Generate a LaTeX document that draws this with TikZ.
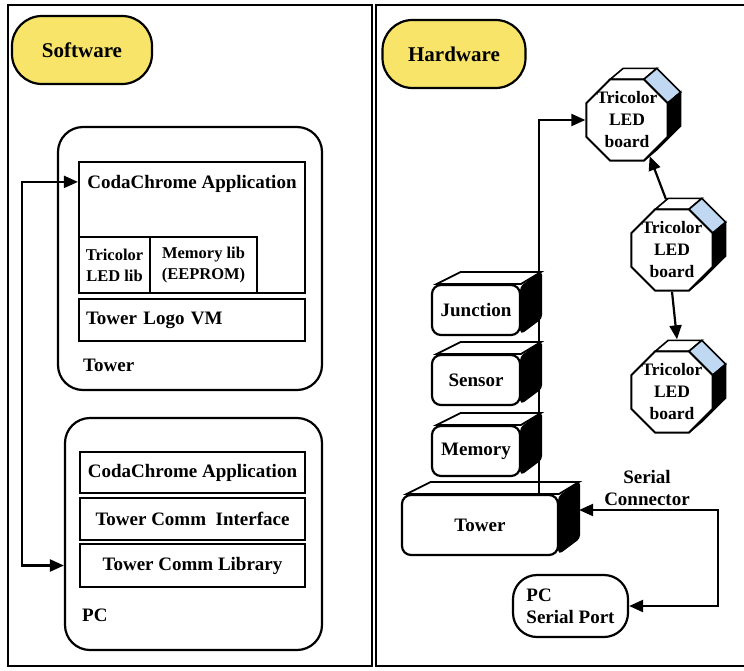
\documentclass[tikz,border=0pt]{standalone}
\usepackage{fontspec}
\setmainfont{Liberation Serif}
\usetikzlibrary{calc,arrows.meta,shapes.geometric,backgrounds}

\definecolor{hdryellow}{RGB}{248,228,104}
\definecolor{ledblue}{RGB}{192,216,242}

% top and dark side of a hardware box
\newcommand{\hwfaces}[1]{%
  \begin{pgfonlayer}{background}
    \filldraw[fill=white,line width=1.8pt] ($(#1.north west)+(6,0)$) -- ($(#1.north west)+(30,-12)$) -- ($(#1.north east)+(20,-12)$) -- (#1.north east) -- cycle;
    \filldraw[fill=black,line width=1.8pt,rounded corners=3pt] ($(#1.north east)+(0,3)$) -- ($(#1.north east)+(20,-12)$) -- ($(#1.south east)+(20,-18)$) -- ($(#1.south east)+(0,-3)$) -- cycle;
  \end{pgfonlayer}}

% back faces of an octagonal board
\newcommand{\ledfaces}[1]{%
  \begin{pgfonlayer}{background}
    \foreach \a/\b/\c in {67.5/112.5/white,22.5/67.5/ledblue,-22.5/22.5/black,-67.5/-22.5/black}
      \filldraw[fill=\c,line width=1.6pt] ($(#1)+(\a:44pt)$) -- ($(#1)+(\a:44pt)+(13,-11)$) -- ($(#1)+(\b:44pt)+(13,-11)$) -- ($(#1)+(\b:44pt)$) -- cycle;
  \end{pgfonlayer}}

\begin{document}
\begin{tikzpicture}[x=1pt,y=-1pt,
  font=\bfseries\fontsize{19}{22}\selectfont,
  >={Triangle[length=14pt,width=12pt]},
  panel/.style={draw,line width=2.6pt},
  header/.style={draw,fill=hdryellow,line width=2.2pt,rounded corners=30pt,minimum width=140pt,minimum height=68pt,font=\bfseries\fontsize{21}{24}\selectfont},
  swgroup/.style={draw,line width=2.2pt,rounded corners=25pt,inner sep=0pt},
  layer/.style={draw,line width=2.2pt,inner sep=0pt},
  smalllayer/.style={layer,minimum height=56pt,align=center,font=\bfseries\fontsize{16.5}{21}\selectfont},
  hwbox/.style={draw,fill=white,line width=2.2pt,rounded corners=9pt,inner sep=0pt,minimum width=88pt,minimum height=50pt},
  ledboard/.style={draw,fill=white,line width=2pt,regular polygon,regular polygon sides=8,minimum size=88pt,inner sep=0pt},
  ledtext/.style={align=center,font=\bfseries\fontsize{17.5}{22}\selectfont,inner sep=0pt},
  link/.style={line width=2.2pt}]
\useasboundingbox (0,0) rectangle (744,670);

% panels
\draw[panel] (8,5) rectangle (372,666);
\draw[panel] (744,5) -- (376,5) -- (376,666) -- (744,666);

% software
\node[header] (sw) at (82,50) {Software};

\node[swgroup,minimum width=264pt,minimum height=263pt] (towergrp) at (190,258.5) {};
\node[layer,minimum width=226pt,minimum height=131pt] (twapp) at (192,227.5) {};
\node[anchor=north] (twapptxt) at ($(twapp.north)+(0,11)$) {CodaChrome Application};
\node[smalllayer,minimum width=71pt] (ledlib) at (114.5,265) {Tricolor\\LED lib};
\node[smalllayer,minimum width=107pt] (memlib) at (203.5,265) {Memory lib\\(EEPROM)};
\node[layer,minimum width=226pt,minimum height=42pt,text width=212pt,align=left] (logovm) at (192,320) {Tower Logo VM};
\node[anchor=west,inner sep=0pt] (towerlbl) at (83,365) {Tower};

\node[swgroup,minimum width=257pt,minimum height=232pt] (pcgrp) at (193.5,534) {};
\node[layer,minimum width=225pt,minimum height=41pt] (pcapp) at (192.5,472.5) {CodaChrome Application};
\node[layer,minimum width=225pt,minimum height=42pt] (pcintf) at (192.5,519) {Tower Comm\ \ Interface};
\node[layer,minimum width=225pt,minimum height=43pt] (pclib) at (192.5,565.5) {Tower Comm Library};
\node[anchor=west,inner sep=0pt] (pclbl) at (82,615) {PC};

\draw[link,<->] ($(twapp.north west)+(0,21)$) -- ++(-56,0) |- (pclib -| pcgrp.west);

% hardware
\node[header,minimum width=143pt] (hw) at (454,54) {Hardware};

\node[ledboard] (led1) at (627,120) {};
\node[ledboard] (led2) at (672,250) {};
\node[ledboard] (led3) at (672,392) {};
\foreach \n in {led1,led2,led3} {
  \ledfaces{\n}
  \node[ledtext] (\n-txt) at (\n) {Tricolor\\LED\\board};
}

\node[hwbox] (junction) at (476,310) {Junction};
\node[hwbox] (sensor) at (476,380) {Sensor};
\node[hwbox] (memory) at (476,451) {Memory};
\node[hwbox,minimum width=156pt,minimum height=60pt] (tower) at (480,525) {Tower};
\foreach \n in {junction,sensor,memory,tower} {\hwfaces{\n}}

\node[draw,line width=2.2pt,rounded corners=24pt,minimum width=115pt,minimum height=62pt,align=left] (pcport) at (570.5,606) {PC\\Serial Port};
\node[align=center] (serlbl) at (647,488) {Serial\\Connector};

\coordinate (busfoot) at ($(tower.north east)+(-20,0)$);
\coordinate (towerside) at ($(tower.east)+(20,-15)$);
\coordinate (led2top) at ($(led2.north)+(-6,-9)$);
\coordinate (led3top) at ($(led3.north)+(5,-11)$);

\draw[link,->] (busfoot) |- (led1.west);
\draw[link,->] (led2top) -- (led1.-58);
\draw[link,->] (led2.south) -- (led3top);
\draw[link,<->] (pcport.east) -- ++(89,0) |- (towerside);
\end{tikzpicture}
\end{document}
